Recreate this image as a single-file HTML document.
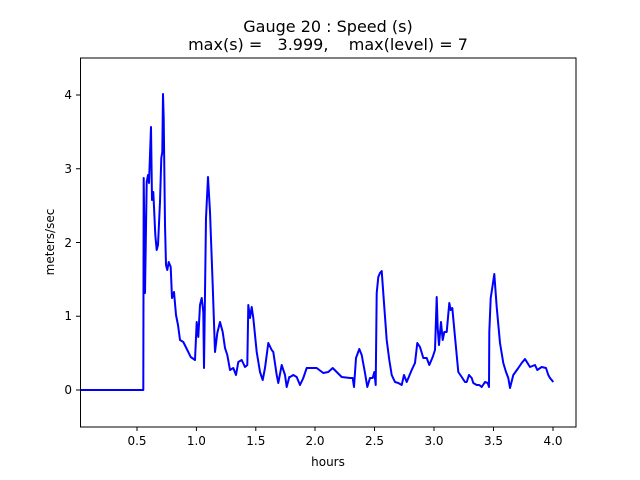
<!DOCTYPE html>
<html><head><meta charset="utf-8"><style>
html,body{margin:0;padding:0;background:#fff}
svg{display:block;font-family:"DejaVu Sans","Liberation Sans",sans-serif}
</style></head><body>
<svg width="640" height="480" viewBox="0 0 640 480" xmlns="http://www.w3.org/2000/svg">
<rect width="640" height="480" fill="#fff"/>
<text x="328" y="32" font-size="16" text-anchor="middle">Gauge 20 : Speed (s)</text>
<text x="328" y="50" font-size="16" text-anchor="middle" xml:space="preserve">max(s) =   3.999,    max(level) = 7</text>
<polyline fill="none" stroke="#0000ff" stroke-width="2" stroke-linejoin="round" points="
80,390 143.3,390 143.7,178 145,293 146.7,182 148,175 149,183 151,127 152,200 153.3,192 155.3,235 156.7,250 158,245 160,202 161.3,158 162.3,152 163,94 163.7,118 165,225 166,265 167.3,270 168.7,262 170.7,267 172,298 174,292 176,315 178,325 180,340 183.3,342 187.3,350 190.7,357 195,360 196.7,322 198.3,337 200,305 201.7,298 203.3,312 204,368 206,218 208,177 210,212 212.7,285 215,352 217.3,333 220,322 222.7,332 225,348 227.3,355 230,370 233.3,368 236,375 238.3,362 241.7,360 245,367 247.3,365 248.3,305 250,318 251.7,307 253.3,318 256.7,352 260,372 262.7,380 265,368 268.3,343 271.7,350 273.3,352 276.7,375 278.3,383 281.7,365 285,375 286.7,387 289.3,377
290,377 293.3,375 296.7,377 300,385 303.3,378 306.7,368 311.7,368 316.7,368 323.3,373 328.3,372 332.7,368 336.7,372 341.7,377 350,378 352.7,378 354,387 356,358 359.3,349 361.7,355 365,373 367.3,387 370,378 372.7,378 374.3,372 375.7,385 376.7,293 378.3,277 380,273 381.7,271 384,303 386.7,340 389.3,360 391.7,375 395,382 398.3,383 401.7,385 404,375 406.7,382 411.7,370 415,363 417.3,343 420,347 423.3,358 426.7,358 429.3,365 432.7,357 435,350 436.7,297 437.7,328 439,345 441,322 442.7,340 444.3,332 446.7,332 449.3,303 450.7,310 452.3,308 455,337 458.3,372 461.7,377 465,382 466.7,382 469,375 471.7,378 473.3,383 476.7,385 479.3,385 481.7,387 485,382 487.7,383 489,387 489.3,332 490.7,298 492.7,285 494.3,274 496.7,307 500,343 503.3,363 506,372 508.3,378 510,388 513.3,375 518.3,368 521.7,363 525,359 530,367 535,365 537.3,370 541.7,367 546,368 548.3,375 550,378 553.3,382"/>
<rect x="80.5" y="58" width="495.5" height="369" fill="none" stroke="#000" stroke-width="1"/>
<g stroke="#000" stroke-width="1">
<line x1="137" y1="427" x2="137" y2="431"/><line x1="196.4" y1="427" x2="196.4" y2="431"/>
<line x1="255.8" y1="427" x2="255.8" y2="431"/><line x1="315" y1="427" x2="315" y2="431"/>
<line x1="374.5" y1="427" x2="374.5" y2="431"/><line x1="434" y1="427" x2="434" y2="431"/>
<line x1="493.5" y1="427" x2="493.5" y2="431"/><line x1="553" y1="427" x2="553" y2="431"/>
<line x1="76" y1="390" x2="80" y2="390"/><line x1="76" y1="316.25" x2="80" y2="316.25"/>
<line x1="76" y1="242.5" x2="80" y2="242.5"/><line x1="76" y1="168.75" x2="80" y2="168.75"/>
<line x1="76" y1="95" x2="80" y2="95"/>
</g>
<g font-size="12" text-anchor="middle">
<text x="137" y="445">0.5</text><text x="196.4" y="445">1.0</text><text x="255.8" y="445">1.5</text>
<text x="315" y="445">2.0</text><text x="374.5" y="445">2.5</text><text x="434" y="445">3.0</text>
<text x="493.5" y="445">3.5</text><text x="553" y="445">4.0</text>
<text x="328" y="466">hours</text>
</g>
<g font-size="12" text-anchor="end">
<text x="72" y="394">0</text><text x="72" y="320">1</text><text x="72" y="247">2</text>
<text x="72" y="173">3</text><text x="72" y="99">4</text>
</g>
<text x="0" y="0" font-size="12" text-anchor="middle" transform="translate(54,242) rotate(-90)">meters/sec</text>
</svg>
</body></html>
